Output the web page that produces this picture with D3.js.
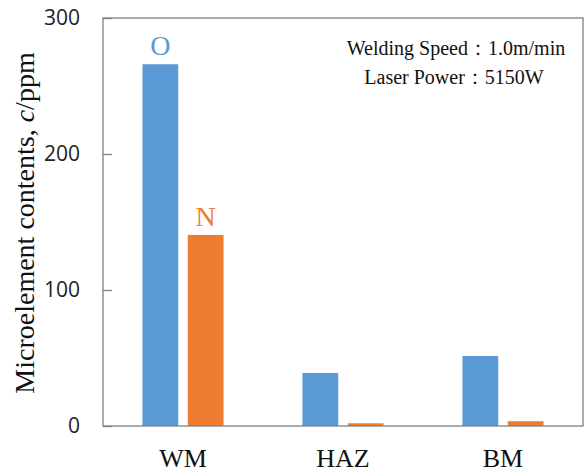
<!DOCTYPE html>
<html>
<head>
<meta charset="utf-8">
<script src="https://cdn.jsdelivr.net/npm/d3@7"></script>
<style>
  html, body { margin: 0; padding: 0; background: #fff; }
  svg { display: block; }
  .serif { font-family: "Liberation Serif", "Times New Roman", serif; }
</style>
</head>
<body>
<div id="chart"></div>
<script>
// chart data
var categories = ['WM', 'HAZ', 'BM'];
var seriesNames = ['O', 'N'];
var oxygen = [266, 39, 51.5];
var nitrogen = [140.5, 2, 3.5];
var yTicks = [0, 100, 200, 300];

var w = 587, h = 472;
// plot box (window.top is reserved, so prefixed names)
var plotLeft = 103, plotRight = 583, plotTop = 18, plotBottom = 426;
var colors = { O: '#5B9BD5', N: '#ED7D31' };

var svg = d3.select('#chart').append('svg')
            .attr('width', w)
            .attr('height', h);

var x0 = d3.scaleBand().domain(categories).range([plotLeft, plotRight]).padding(0);
var x1 = d3.scaleBand().domain(seriesNames).range([0, x0.bandwidth()])
           .paddingInner(0.21).paddingOuter(0.87);
var y = d3.scaleLinear().domain([0, 300]).range([plotBottom, plotTop]);

var rows = categories.map(function (c, i) {
    return { cat: c, O: oxygen[i], N: nitrogen[i] };
});

// bars
var groups = svg.selectAll('g.bars')
                .data(rows)
                .enter()
                .append('g')
                .attr('class', 'bars')
                .attr('transform', function (d) { return 'translate(' + x0(d.cat) + ',0)'; });

groups.selectAll('rect')
      .data(function (d) { return seriesNames.map(function (s) { return { s: s, v: d[s] }; }); })
      .enter()
      .append('rect')
      .attr('x', function (d) { return x1(d.s); })
      .attr('width', x1.bandwidth())
      .attr('y', function (d) { return y(d.v); })
      .attr('height', function (d) { return plotBottom - y(d.v); })
      .attr('fill', function (d) { return colors[d.s]; });

// O / N labels over the first group
svg.selectAll('text.series')
   .data(seriesNames)
   .enter()
   .append('text')
   .attr('class', 'series serif')
   .attr('x', function (s) { return x0(categories[0]) + x1(s) + x1.bandwidth() / 2; })
   .attr('y', function (s) { return y(rows[0][s]) - 9; })
   .attr('text-anchor', 'middle')
   .style('font-size', '28px')
   .attr('fill', function (s) { return colors[s]; })
   .text(function (s) { return s; });

// frame
svg.append('rect')
   .attr('x', plotLeft).attr('y', plotTop)
   .attr('width', plotRight - plotLeft).attr('height', plotBottom - plotTop)
   .attr('fill', 'none')
   .attr('stroke', '#808080')
   .attr('stroke-width', 1.3);

// y axis, ticks pointing inward
var yAxis = svg.append('g')
               .attr('transform', 'translate(' + plotLeft + ',0)')
               .call(d3.axisRight(y).tickValues(yTicks).tickSize(9).tickFormat(d3.format('d')));
yAxis.select('.domain').remove();
yAxis.selectAll('line').attr('stroke', '#808080').attr('stroke-width', 1.3);
yAxis.selectAll('text')
     .attr('x', -23)
     .attr('text-anchor', 'end')
     .attr('font-family', '"Open Sans", sans-serif')
     .attr('font-size', 21)
     .attr('fill', '#222');

// x labels
svg.selectAll('text.cat')
   .data(categories)
   .enter()
   .append('text')
   .attr('class', 'cat serif')
   .attr('x', function (c) { return x0(c) + x0.bandwidth() / 2; })
   .attr('y', 467)
   .attr('text-anchor', 'middle')
   .style('font-size', '26px')
   .attr('fill', '#111')
   .text(function (c) { return c; });

// y title
var yt = svg.append('text')
            .attr('class', 'serif')
            .attr('transform', 'translate(34,' + ((53 + 393) / 2) + ') rotate(-90)')
            .attr('text-anchor', 'middle')
            .style('font-size', '28px')
            .attr('fill', '#111');
yt.append('tspan').text('Microelement contents, ');
yt.append('tspan').attr('font-style', 'italic').text('c');
yt.append('tspan').text('/ppm');

// note
var note = svg.append('g')
              .attr('class', 'serif')
              .style('font-size', '20px')
              .attr('fill', '#111')
              .attr('text-anchor', 'middle');
note.append('text').attr('x', 456).attr('y', 55).text('Welding Speed\uFF1A1.0m/min');
note.append('text').attr('x', 454).attr('y', 84).text('Laser Power\uFF1A5150W');
</script>
</body>
</html>
